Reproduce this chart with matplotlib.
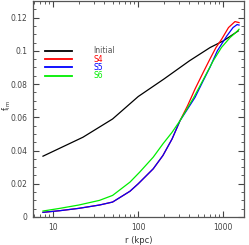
import numpy as np
import matplotlib
matplotlib.use("Agg")
import matplotlib.pyplot as plt
from matplotlib.ticker import FixedLocator, LogLocator, NullFormatter

# valeurs
r_init = [7.6, 22.4, 50, 100, 200, 400, 700, 1000, 1500]
f_init = [0.0366, 0.048, 0.059, 0.0725, 0.083, 0.094, 0.102, 0.106, 0.112]

r_s4 = [7.6, 12, 20, 35, 50, 80, 100, 150, 195, 250, 310, 380, 465, 580, 695, 820, 955, 1150, 1370, 1530]
f_s4 = [0.0028, 0.0038, 0.0052, 0.0072, 0.009, 0.0155, 0.020, 0.029, 0.037, 0.047, 0.058, 0.067, 0.077, 0.087, 0.095, 0.102, 0.107, 0.114, 0.1176, 0.117]

r_s5 = [7.6, 12, 20, 35, 50, 80, 100, 150, 195, 250, 310, 380, 465, 580, 695, 850, 1100, 1300, 1450, 1530]
f_s5 = [0.0028, 0.0038, 0.0052, 0.0072, 0.009, 0.0155, 0.020, 0.029, 0.037, 0.047, 0.058, 0.065, 0.072, 0.082, 0.090, 0.100, 0.109, 0.114, 0.1158, 0.1155]

r_s6 = [7.6, 12, 20, 35, 50, 80, 104, 150, 195, 250, 310, 450, 600, 760, 950, 1200, 1400, 1530]
f_s6 = [0.0036, 0.0052, 0.0072, 0.010, 0.013, 0.021, 0.027, 0.036, 0.044, 0.051, 0.058, 0.072, 0.084, 0.094, 0.102, 0.108, 0.111, 0.113]

y_ticks = [0, 0.02, 0.04, 0.06, 0.08, 0.1, 0.12]
y_labels = ["0", "0.02", "0.04", "0.06", "0.08", "0.1", "0.12"]
x_ticks = [10, 100, 1000]
x_labels = ["10", "100", "1000"]

fig = plt.figure(figsize=(2.49, 2.45), dpi=100)
ax = fig.add_axes([0.1325, 0.1143, 0.8475, 0.8817])

ax.plot(r_init, f_init, color="black", lw=0.9)
ax.plot(r_s4, f_s4, color="red", lw=0.9)
ax.plot(r_s5, f_s5, color="blue", lw=0.9)
ax.plot(r_s6, f_s6, color="#00ee00", lw=0.9)

# légende faite à la main (style IDL)
noms = ["Initial", "S4", "S5", "S6"]
couleurs = ["black", "red", "blue", "#00ee00"]
for i, (n, c) in enumerate(zip(noms, couleurs)):
    y = 0.100 - i * 0.005
    ax.plot([8.0, 16.5], [y, y], color=c, lw=1.3)
    ax.text(30, y, n, color="#555555" if c == "black" else c, fontsize=5.5, va="center", ha="left")

ax.set_xscale("log")
ax.set_xlim(5.8, 1750)
ax.set_ylim(0, 0.13)

ax.xaxis.set_major_locator(FixedLocator(x_ticks))
ax.set_xticklabels(x_labels)
ax.xaxis.set_minor_locator(LogLocator(base=10, subs=np.arange(2, 10)))
ax.xaxis.set_minor_formatter(NullFormatter())
ax.yaxis.set_major_locator(FixedLocator(y_ticks))
ax.set_yticklabels(y_labels)
ax.yaxis.set_minor_locator(FixedLocator(np.arange(0, 0.1301, 0.005)))

ax.tick_params(which="both", direction="in", top=True, right=True, labelsize=5.5, colors="#444444", pad=4)
ax.tick_params(which="major", length=4, width=0.8)
ax.tick_params(which="minor", length=2, width=0.6)
for s in ax.spines.values():
    s.set_color("#555555")
    s.set_linewidth(0.9)

ax.set_xlabel("r (kpc)", fontsize=6, color="#333333", labelpad=3)
fig.text(0.028, 0.57, "f$_{\\rm im}$", fontsize=5.5, color="#333333", rotation=90, ha="center", va="center")

fig.savefig("out.png", dpi=100)
